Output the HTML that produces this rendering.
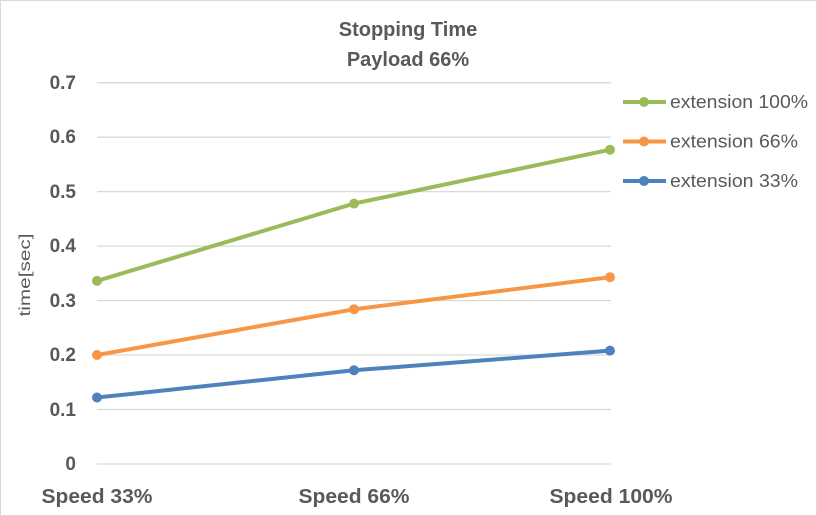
<!DOCTYPE html>
<html><head><meta charset="utf-8"><style>
body{margin:0;background:#fff}
svg{display:block}
text{font-family:"Liberation Sans",sans-serif;fill:#595959}
</style></head><body>
<svg width="817" height="516" viewBox="0 0 817 516">
<rect x="0.5" y="0.5" width="816" height="515" fill="#fff" stroke="#d9d9d9"/>
<text x="408" y="36" text-anchor="middle" font-size="20" font-weight="bold">Stopping Time</text>
<text x="408" y="66" text-anchor="middle" font-size="20" font-weight="bold">Payload 66%</text>
<g stroke="#d9d9d9" stroke-width="1.3">
<line x1="97" x2="611" y1="82.7" y2="82.7"/><line x1="97" x2="611" y1="137.2" y2="137.2"/>
<line x1="97" x2="611" y1="191.6" y2="191.6"/><line x1="97" x2="611" y1="246.1" y2="246.1"/>
<line x1="97" x2="611" y1="300.6" y2="300.6"/><line x1="97" x2="611" y1="355" y2="355"/>
<line x1="97" x2="611" y1="409.5" y2="409.5"/><line x1="97" x2="611" y1="464" y2="464"/>
</g>
<g font-size="19" font-weight="bold" text-anchor="end">
<text x="76" y="89">0.7</text><text x="76" y="143">0.6</text><text x="76" y="198">0.5</text>
<text x="76" y="252">0.4</text><text x="76" y="307">0.3</text><text x="76" y="361">0.2</text>
<text x="76" y="416">0.1</text><text x="76" y="470">0</text>
</g>
<text transform="translate(30,275) rotate(-90)" text-anchor="middle" font-size="16" textLength="83" lengthAdjust="spacingAndGlyphs">time[sec]</text>
<g font-size="20" font-weight="bold" text-anchor="middle">
<text x="97" y="503" textLength="111" lengthAdjust="spacingAndGlyphs">Speed 33%</text>
<text x="354" y="503" textLength="111" lengthAdjust="spacingAndGlyphs">Speed 66%</text>
<text x="611" y="503" textLength="123" lengthAdjust="spacingAndGlyphs">Speed 100%</text>
</g>
<g stroke-width="4" fill="none">
<polyline stroke="#9bbb59" points="97,280.9 354,203.6 610,149.7"/>
<polyline stroke="#f79646" points="97,355 354,309.3 610,277.2"/>
<polyline stroke="#4f81bd" points="97,397.5 354,370.3 610,350.6"/>
</g>
<g fill="#9bbb59"><circle cx="97" cy="280.9" r="5"/><circle cx="354" cy="203.6" r="5"/><circle cx="610" cy="149.7" r="5"/></g>
<g fill="#f79646"><circle cx="97" cy="355" r="5"/><circle cx="354" cy="309.3" r="5"/><circle cx="610" cy="277.2" r="5"/></g>
<g fill="#4f81bd"><circle cx="97" cy="397.5" r="5"/><circle cx="354" cy="370.3" r="5"/><circle cx="610" cy="350.6" r="5"/></g>
<g stroke-width="4">
<line x1="623" x2="666" y1="102" y2="102" stroke="#9bbb59"/>
<line x1="623" x2="666" y1="141.5" y2="141.5" stroke="#f79646"/>
<line x1="623" x2="666" y1="181" y2="181" stroke="#4f81bd"/>
</g>
<circle cx="644" cy="102" r="5" fill="#9bbb59"/><circle cx="644" cy="141.5" r="5" fill="#f79646"/><circle cx="644" cy="181" r="5" fill="#4f81bd"/>
<g font-size="18">
<text x="670" y="108" textLength="138" lengthAdjust="spacingAndGlyphs">extension 100%</text>
<text x="670" y="147.5" textLength="128" lengthAdjust="spacingAndGlyphs">extension 66%</text>
<text x="670" y="187" textLength="128" lengthAdjust="spacingAndGlyphs">extension 33%</text>
</g>
</svg>
</body></html>
